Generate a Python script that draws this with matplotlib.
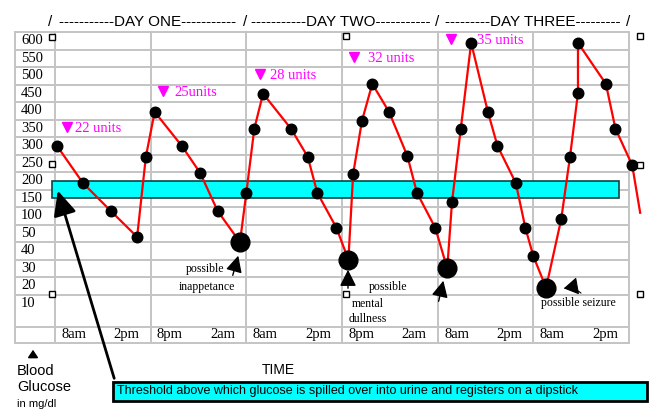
import numpy as np
import matplotlib
matplotlib.use("Agg")
from matplotlib import pyplot as plt
from matplotlib.patches import Rectangle

W, H = 664, 417
SANS = "Liberation Sans"
SERIF = "Liberation Serif"

# readings: hours after the start of day one, blood glucose in mg/dl
hours = [0.25, 3.5, 7.0, 10.3, 11.4, 12.5, 15.9, 18.2, 20.4, 23.2,
         24.0, 25.0, 26.1, 29.6, 31.7, 32.9, 35.3, 36.8, 37.4, 38.5,
         39.8, 41.9, 44.2, 45.4, 47.7, 49.2, 49.8, 50.9, 52.2, 54.3,
         55.5, 57.8, 59.0, 60.0, 61.6, 63.5, 64.6, 65.6, 65.6, 69.1,
         70.3, 72.4]
glucose = [300, 194, 114, 48, 269, 397, 300, 223, 114, 45,
           166, 349, 449, 349, 269, 166, 66, 35, 220, 371,
           477, 397, 271, 166, 66, 30, 140, 349, 594, 397,
           300, 194, 66, 37, 19, 91, 269, 451, 594, 477,
           349, 245]
lows = [9, 17, 25, 34]          # readings drawn as big dots
tail_hours = [72.4, 73.4]       # line keeps going past the last dot
tail_glucose = [245, 109]

y_labels = [600, 550, 500, 450, 400, 350, 300, 250, 200, 150, 100, 50, 40, 30, 20, 10]
time_labels = ["8am", "2pm", "8pm", "2am", "8am", "2pm",
               "8pm", "2am", "8am", "2pm", "8am", "2pm"]
days = ["DAY ONE", "DAY TWO", "DAY THREE"]
doses = ["22 units", "25units", "28 units", "32 units", "35 units"]
threshold = (150, 200)


# spreadsheet rows: 10..50 step 10, then 50..600 step 50, one row each
def fwd(v):
    v = np.asarray(v, dtype=float)
    return np.where(v <= 50, (v - 10) / 10, 4 + (v - 50) / 50)


def inv(p):
    p = np.asarray(p, dtype=float)
    return np.where(p <= 4, 10 + 10 * p, 50 + 50 * (p - 4))


fig = plt.figure(figsize=(W / 100, H / 100), dpi=100)
ax = fig.add_axes([15 / W, 1 - 343 / H, 614 / W, 311 / H])
ax.set_yscale("function", functions=(fwd, inv))
ax.set_xlim(-40 / 7.972, 72)
ax.set_ylim(float(inv(-2.257)), float(inv(15.5)))

gridc = "#c4c4c4"
row_bounds = [float(inv(k + 0.5)) for k in range(15)] + [float(inv(-1.34))]
ax.set_yticks([])
ax.set_xticks([])
ax.set_yticks(row_bounds, minor=True)
ax.set_xticks([0, 12, 24, 36, 48, 60], minor=True)
ax.tick_params(which="both", length=0, labelleft=False, labelbottom=False)
ax.grid(which="minor", color=gridc, lw=1.4)
for s in ax.spines.values():
    s.set_color(gridc)
    s.set_linewidth(1.4)

for v in y_labels:
    ax.text(-4.27, v, str(v), ha="left", va="center", family=SERIF, fontsize=10.5)
for i, lab in enumerate(time_labels):
    t = (i // 2) * 12 + (2.4 if i % 2 == 0 else 9.0)
    ax.text(t, -8, lab, ha="center", va="center", family=SERIF, fontsize=10.5)

ax.add_patch(Rectangle((-0.4, threshold[0]), 71.2, threshold[1] - threshold[0],
                       facecolor="#00ffff", edgecolor="#0b4444", lw=1.2, zorder=2))

ax.plot(hours, glucose, color="#ff0000", lw=1.6, zorder=3, clip_on=False)
ax.plot(tail_hours, tail_glucose, color="#ff0000", lw=1.6, zorder=3, clip_on=False)
small = [i for i in range(len(hours)) if i not in lows]
ax.plot([hours[i] for i in small], [glucose[i] for i in small], "o", color="black",
        ms=7.6, zorder=4, clip_on=False)
ax.plot([hours[i] for i in lows], [glucose[i] for i in lows], "o", color="black",
        ms=13.5, zorder=4, clip_on=False)

# overlay in pixel coordinates for the hand placed notes
ov = fig.add_axes([0, 0, 1, 1])
ov.set_xlim(0, W)
ov.set_ylim(H, 0)
ov.axis("off")

# header: fill each day's span with dashes
renderer = fig.canvas.get_renderer()
slashes = [50, 245, 437, 628]
for x in slashes:
    ov.text(x, 22, "/", ha="center", va="center", family=SANS, fontsize=11)
for i, d in enumerate(days):
    span = slashes[i + 1] - slashes[i] - 10
    n = 1
    t = ov.text((slashes[i] + slashes[i + 1]) / 2, 22, "-" + d + "-",
                ha="center", va="center", family=SANS, fontsize=11)
    while True:
        t.set_text("-" * (n + 1) + d + "-" * (n + 1))
        if t.get_window_extent(renderer).width > span:
            t.set_text("-" * n + d + "-" * n)
            break
        n += 1

# insulin doses
dose_tri = [(67, 127), (163, 91), (260, 74), (354, 57), (451, 39)]
dose_txt = [75, 174, 270, 368, 477]
for (tx, ty), x0, d in zip(dose_tri, dose_txt, doses):
    ov.plot(tx, ty, "v", color="#ff00ff", ms=7.5)
    ov.text(x0, ty + 1, d, ha="left", va="center", family=SERIF, fontsize=10.5,
            color="#ff00ff")

# notes on the lows
note_kw = dict(ha="center", va="center", family=SERIF, fontsize=8.5)
ov.text(205, 269, "possible", **note_kw)
ov.text(207, 287, "inappetance", **note_kw)
ov.text(388, 287, "possible", **note_kw)
ov.text(368, 304, "mental", **note_kw)
ov.text(368, 319, "dullness", **note_kw)
ov.text(578, 303, "possible seizure", **note_kw)

arr = dict(arrowstyle="-|>,head_length=1.0,head_width=0.5", color="black", lw=1)
ov.annotate("", xy=(239, 253), xytext=(232, 278), arrowprops=arr)
ov.annotate("", xy=(348, 267), xytext=(348, 291), arrowprops=arr)
ov.annotate("", xy=(444, 278), xytext=(438, 304), arrowprops=arr)
ov.annotate("", xy=(561, 289), xytext=(583, 295),
            arrowprops=dict(arrowstyle="-|>,head_length=0.9,head_width=0.55",
                            color="black", lw=0.8, connectionstyle="arc3,rad=0.3"))

# selection handles of the drawing object
hx = [52, 52, 52, 346, 346, 640, 640, 640]
hy = [37, 164, 294, 36, 294, 36, 165, 294]
ov.plot(hx, hy, "s", mfc="white", mec="black", ms=5, mew=1)

# threshold label and its arrow
ov.add_patch(Rectangle((113, 382), 534, 19, facecolor="#00ffff", edgecolor="black", lw=2))
ov.text(117, 391, "Threshold above which glucose is spilled over into urine and registers on a dipstick",
        ha="left", va="center", family=SANS, fontsize=9)
ov.annotate("", xy=(57, 188), xytext=(115, 381),
            arrowprops=dict(arrowstyle="-|>,head_length=1.5,head_width=0.7",
                            color="black", lw=2))

# axis titles
ov.text(278, 370, "TIME", ha="center", va="center", family=SANS, fontsize=10)
ov.text(17, 371, "Blood", ha="left", va="center", family=SANS, fontsize=10.5)
ov.text(17, 387, "Glucose", ha="left", va="center", family=SANS, fontsize=10.5)
ov.text(17, 404, "in mg/dl", ha="left", va="center", family=SANS, fontsize=8)
ov.annotate("", xy=(33, 347), xytext=(33, 357),
            arrowprops=dict(arrowstyle="-|>,head_length=0.45,head_width=0.3", color="black", lw=1.2))

fig.savefig("out.png", dpi=100)
